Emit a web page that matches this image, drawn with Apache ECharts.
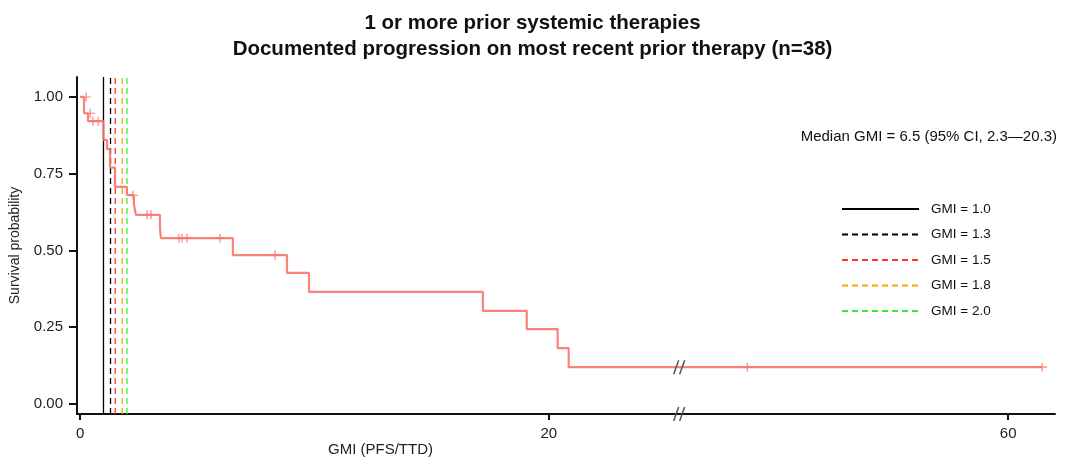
<!DOCTYPE html>
<html>
<head>
<meta charset="utf-8">
<script src="https://cdn.jsdelivr.net/npm/echarts@6/dist/echarts.min.js"></script>
<style>
  html, body { margin: 0; padding: 0; background: #fff; }
  #chart { width: 1065px; height: 459px; }
</style>
</head>
<body>
<div id="chart"></div>
<script>
  // KM curve (GMI time, survival)
  const kmTimes = [0, 0.17, 0.34, 1.0, 1.15, 1.28, 1.49, 2.0, 2.3, 2.38, 3.41, 3.45, 6.52, 8.83, 9.77, 17.19, 19.06, 20.38, 20.85, 61.45];
  const kmSurv  = [1.0, 0.947, 0.921, 0.86, 0.83, 0.77, 0.707, 0.68, 0.65, 0.616, 0.573, 0.54, 0.485, 0.427, 0.365, 0.303, 0.244, 0.182, 0.12, 0.12];

  // censored observations
  const censorTimes = [0.26, 0.43, 0.55, 0.77, 2.26, 2.86, 3.03, 4.22, 4.35, 4.56, 5.97, 8.32, 48.87, 61.45];
  const censorSurv  = [1.0, 0.947, 0.921, 0.921, 0.68, 0.616, 0.616, 0.54, 0.54, 0.54, 0.54, 0.485, 0.12, 0.12];

  // reference lines
  const gmiValues = [1.0, 1.3, 1.5, 1.8, 2.0];
  const gmiColors = ['#000000', '#000000', '#ff3333', '#ffa500', '#33ee33'];
  const gmiTypes  = ['solid', [6, 4], [6, 4], [6, 4], [6, 4]];

  const xTicks = [0, 20, 60];
  const yTicks = [0, 0.25, 0.5, 0.75, 1.0];
  const breakStart = 25.5, breakEnd = 45.9;

  const X_MIN = -0.13, X_MAX = 62, Y_MIN = -0.0326, Y_MAX = 1.065;
  const FONT = 'Liberation Sans, Arial, sans-serif';

  const chart = echarts.init(document.getElementById('chart'));

  const gmiSeries = gmiValues.map((v, i) => ({
    name: 'GMI = ' + v.toFixed(1),
    type: 'line',
    symbol: 'none',
    silent: true,
    data: [[v, Y_MIN], [v, Y_MAX]],
    lineStyle: { color: gmiColors[i], width: 1.3, type: gmiTypes[i] },
    itemStyle: { color: gmiColors[i] },
    z: 2
  }));

  const plus = 'path://M4.4,0H5.6V10H4.4ZM0,4.4H10V5.6H0Z';

  chart.setOption({
    backgroundColor: '#fff',
    animation: false,
    textStyle: { fontFamily: FONT },
    title: {
      text: '1 or more prior systemic therapies\nDocumented progression on most recent prior therapy (n=38)',
      left: 'center', top: 5,
      textStyle: { fontSize: 20.5, fontWeight: 'bold', color: '#111', lineHeight: 26, fontFamily: FONT }
    },
    grid: { left: 77, right: 10, top: 77, bottom: 45 },
    legend: {
      data: gmiSeries.map(s => s.name),
      orient: 'vertical',
      left: 841, top: 202, padding: 0,
      itemWidth: 77, itemHeight: 10, itemGap: 11.5,
      itemStyle: { color: 'rgba(0,0,0,0)', borderWidth: 0 },
      textStyle: { fontSize: 13.5, color: '#111', padding: [0, 0, 0, 7], fontFamily: FONT },
      selectedMode: false
    },
    xAxis: {
      type: 'value',
      min: X_MIN, max: X_MAX,
      breaks: [{ start: breakStart, end: breakEnd, gap: 0 }],
      breakArea: { show: false },
      axisLine: { show: true, onZero: false, lineStyle: { color: '#111', width: 2 } },
      axisTick: { show: true, length: 6, customValues: xTicks, lineStyle: { color: '#111', width: 2 } },
      axisLabel: { customValues: xTicks, color: '#222', fontSize: 15, margin: 12, fontFamily: FONT },
      splitLine: { show: false }
    },
    yAxis: {
      type: 'value',
      min: Y_MIN, max: Y_MAX,
      name: 'Survival probability',
      nameLocation: 'middle', nameGap: 55, nameRotate: 90,
      nameTextStyle: { fontSize: 14, color: '#222', fontFamily: FONT },
      axisLine: { show: true, onZero: false, lineStyle: { color: '#111', width: 2 } },
      axisTick: { show: true, length: 8, customValues: yTicks, lineStyle: { color: '#111', width: 2 } },
      axisLabel: { customValues: yTicks, color: '#222', fontSize: 15, margin: 14, formatter: v => v.toFixed(2), fontFamily: FONT },
      splitLine: { show: false }
    },
    series: gmiSeries.concat([
      {
        name: 'KM',
        type: 'line',
        step: 'end',
        symbol: 'none',
        data: kmTimes.map((t, i) => [t, kmSurv[i]]),
        lineStyle: { color: '#f8766d', width: 2.2, opacity: 0.9 },
        z: 3
      },
      {
        name: 'censor',
        type: 'scatter',
        symbol: plus,
        symbolSize: [10, 9],
        data: censorTimes.map((t, i) => [t, censorSurv[i]]),
        itemStyle: { color: '#f8766d', opacity: 0.9 },
        z: 4
      }
    ])
  });

  // axis-break marks and annotations
  const pCurve = chart.convertToPixel({ gridIndex: 0 }, [breakStart, kmSurv[kmSurv.length - 1]]);
  const pAxis = chart.convertToPixel({ gridIndex: 0 }, [breakStart, Y_MIN]);
  function slashes(p) {
    return [0, 6].map(dx => ({
      type: 'line',
      shape: { x1: p[0] - 4 + dx, y1: p[1] + 7, x2: p[0] + 1 + dx, y2: p[1] - 7 },
      style: { stroke: '#555', lineWidth: 1.5 },
      z: 10
    }));
  }
  chart.setOption({
    graphic: slashes(pCurve).concat(slashes(pAxis)).concat([
      {
        type: 'text', right: 8, top: 129,
        style: { text: 'Median GMI = 6.5 (95% CI, 2.3\u201420.3)', fontSize: 15, fill: '#111', fontFamily: FONT }
      },
      {
        type: 'text', left: 328, top: 442,
        style: { text: 'GMI (PFS/TTD)', fontSize: 15, fill: '#222', fontFamily: FONT }
      }
    ])
  });
</script>
</body>
</html>
